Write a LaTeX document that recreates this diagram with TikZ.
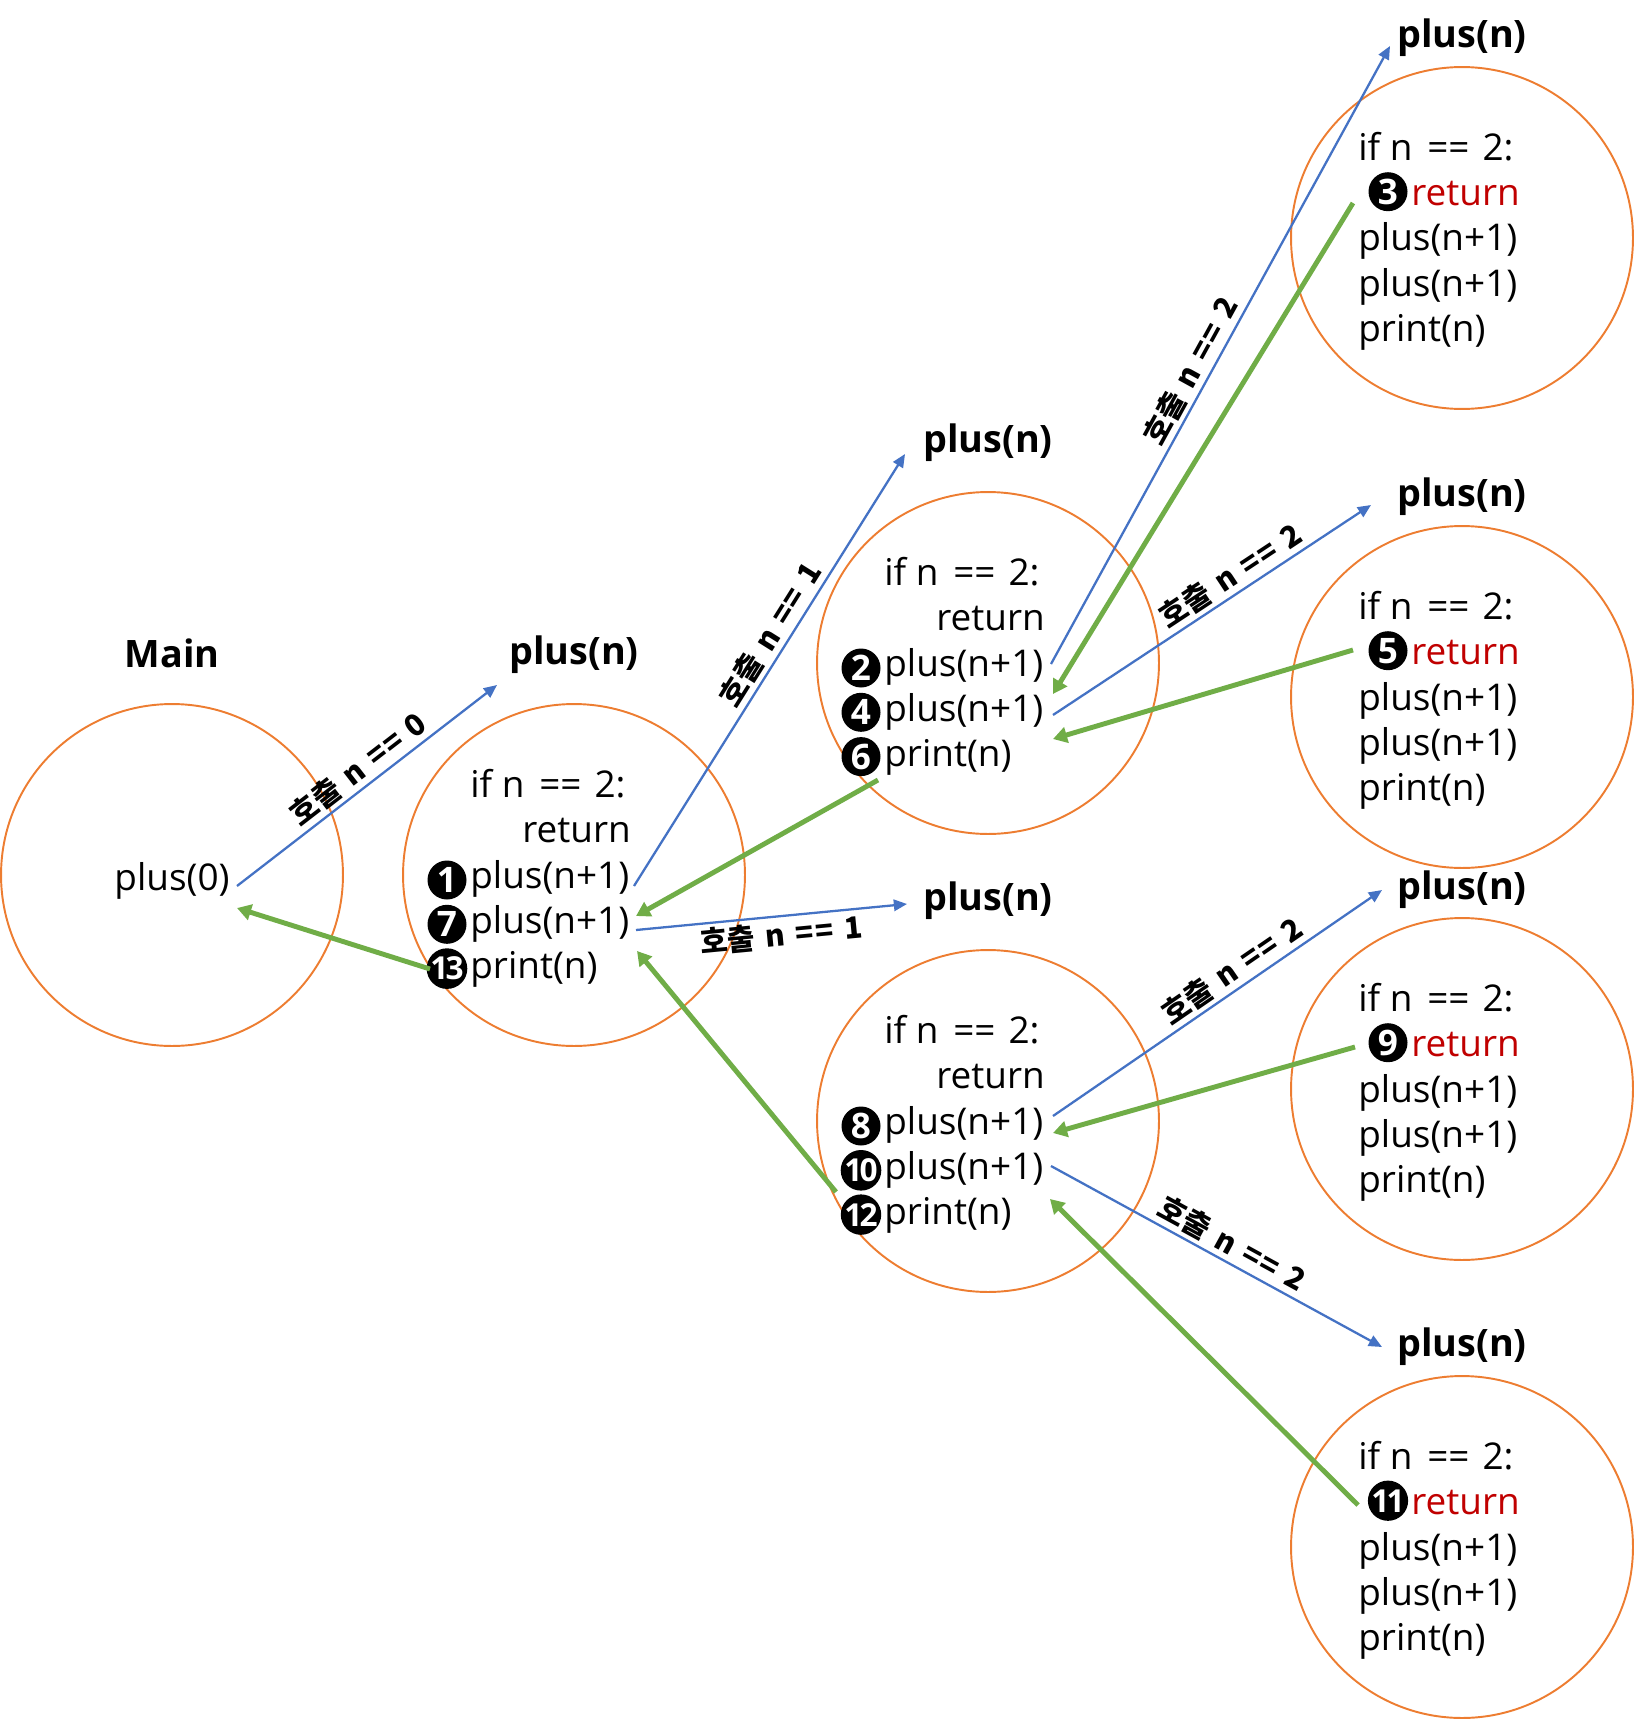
\documentclass[tikz,border=0pt]{standalone}
\usepackage{fontspec}
\setmainfont{Open Sans}
\newfontfamily\kr{Noto Sans CJK KR}
\usetikzlibrary{arrows.meta}
\definecolor{orng}{HTML}{ED7D31}
\definecolor{blu}{HTML}{4472C4}
\definecolor{grn}{HTML}{70AD47}
\definecolor{rd}{HTML}{C00000}
\tikzset{
 circ/.style={circle, draw=orng, line width=1.1pt, minimum size=6.84cm, inner sep=0},
 code/.style={anchor=base west, inner sep=0, font=\fontsize{21}{25}\selectfont},
 mk/.style={circle, fill=black, text=white, inner sep=0, minimum size=0.78cm, font=\bfseries\fontsize{20}{20}\selectfont},
 mkk/.style={mk, font=\bfseries\fontsize{18}{18}\selectfont},
 ttl/.style={font=\bfseries\fontsize{21.5}{25}\selectfont, inner sep=0},
 lab/.style={sloped, inner sep=2pt, font=\kr\bfseries\fontsize{17}{20}\selectfont},
 call/.style={draw=blu, line width=1.3pt, -{Triangle[length=7.5pt,width=6.5pt]}},
 ret/.style={draw=grn, line width=2.8pt, -{Triangle[length=8pt,width=9pt]}},
}
\newcommand\codeln[4]{\node[code] (#1) at ([shift={(#2)}]#3.center) {#4};}
\newcommand\iftext{if n\hspace{3pt} ==\hspace{2pt} 2:}
\newcommand\calllab[1]{호출\hspace{6pt}n\hspace{6pt}=\hspace{1pt}=\hspace{6pt}#1}
\begin{document}
\begin{tikzpicture}[x=0.02cm,y=-0.02cm]
\useasboundingbox (0,0) rectangle (1635,1720);
% circles
\node[circ] (cm) at (172,875) {};
\node[circ] (c1) at (574,875) {};
\node[circ] (c2) at (988,663) {};
\node[circ] (c3) at (988,1121) {};
\node[circ] (c4) at (1462,238) {};
\node[circ] (c5) at (1462,697) {};
\node[circ] (c6) at (1462,1089) {};
\node[circ] (c7) at (1462,1547) {};
% titles
\node[ttl] (tm) at (172,653) {Main};
\node[ttl] (t1) at (574,655) {plus(n)};
\node[ttl] (t2) at (988,443) {plus(n)};
\node[ttl] (t3) at (988,901) {plus(n)};
\node[ttl] (t4) at (1462,38) {plus(n)};
\node[ttl] (t5) at (1462,497) {plus(n)};
\node[ttl] (t6) at (1462,890) {plus(n)};
\node[ttl] (t7) at (1462,1347) {plus(n)};
% main text
\node[code, anchor=base] (pm) at ([shift={(0,15)}]cm.center) {plus(0)};
% C1
\codeln{c1a}{-104,-77.6}{c1}{\iftext}
\codeln{c1b}{-52,-32.3}{c1}{return}
\codeln{c1c}{-104,13}{c1}{plus(n+1)}
\codeln{c1d}{-104,58.3}{c1}{plus(n+1)}
\codeln{c1e}{-104,103.6}{c1}{print(n)}
\node[mk] (k1) at ([shift={(-23,-8)}]c1c.base west) {1};
\node[mk] (k7) at ([shift={(-23,-9)}]c1d.base west) {7};
\node[mkk] (k13) at ([shift={(-23,-10)}]c1e.base west) {1\kern-1.5pt3};
% C2
\codeln{c2a}{-104,-77.6}{c2}{\iftext}
\codeln{c2b}{-52,-32.3}{c2}{return}
\codeln{c2c}{-104,13}{c2}{plus(n+1)}
\codeln{c2d}{-104,58.3}{c2}{plus(n+1)}
\codeln{c2e}{-104,103.6}{c2}{print(n)}
\node[mk] (k2) at ([shift={(-23,-8)}]c2c.base west) {2};
\node[mk] (k4) at ([shift={(-23,-9)}]c2d.base west) {4};
\node[mk] (k6) at ([shift={(-23,-10)}]c2e.base west) {6};
% C3
\codeln{c3a}{-104,-77.6}{c3}{\iftext}
\codeln{c3b}{-52,-32.3}{c3}{return}
\codeln{c3c}{-104,13}{c3}{plus(n+1)}
\codeln{c3d}{-104,58.3}{c3}{plus(n+1)}
\codeln{c3e}{-104,103.6}{c3}{print(n)}
\node[mk] (k8) at ([shift={(-23,-8)}]c3c.base west) {8};
\node[mkk] (k10) at ([shift={(-23,-9)}]c3d.base west) {1\kern-1.5pt0};
\node[mkk] (k12) at ([shift={(-23,-10)}]c3e.base west) {1\kern-1.5pt2};
% right circles
\foreach \c/\n/\s in {c4/3/mk, c5/5/mk, c6/9/mk, c7/{1\kern-1.5pt1}/mkk}{
  \codeln{\c-a}{-104,-77.6}{\c}{\iftext}
  \codeln{\c-b}{-51,-32.3}{\c}{\color{rd}return}
  \codeln{\c-c}{-104,13}{\c}{plus(n+1)}
  \codeln{\c-d}{-104,58.3}{\c}{plus(n+1)}
  \codeln{\c-e}{-104,103.6}{\c}{print(n)}
  \node[\s] (k-\c) at ([shift={(-23,-14)}]\c-b.base west) {\n};
}
% arrow end points
\coordinate (b0s) at (237,886);  \coordinate (b0e) at (497,685);
\coordinate (b1s) at (634,886);  \coordinate (b1e) at (905,454);
\coordinate (b2s) at (636,930);  \coordinate (b2e) at (907,904);
\coordinate (b3s) at (1051,664); \coordinate (b3e) at (1390,46);
\coordinate (b4s) at (1053,715); \coordinate (b4e) at (1371,505);
\coordinate (b5s) at (1053,1116);\coordinate (b5e) at (1382,890);
\coordinate (b6s) at (1051,1166);\coordinate (b6e) at (1382,1347);
\coordinate (g0s) at (430,969);  \coordinate (g0e) at (237,908);
\coordinate (g1s) at (878,780);  \coordinate (g1e) at (636,916);
\coordinate (g2s) at (836,1192); \coordinate (g2e) at (637,951);
\coordinate (g3s) at (1353,203); \coordinate (g3e) at (1053,694);
\coordinate (g4s) at (1353,650); \coordinate (g4e) at (1053,739);
\coordinate (g5s) at (1355,1047);\coordinate (g5e) at (1053,1133);
\coordinate (g6s) at (1358,1505);\coordinate (g6e) at (1050,1199);
% calls
\draw[call] (b0s) -- node[lab, above, pos=0.51] (l0) {\calllab{0}} (b0e);
\draw[call] (b1s) -- node[lab, above, pos=0.56] (l1) {\calllab{1}} (b1e);
\draw[call] (b2s) -- node[lab, below, pos=0.53] (l2) {\calllab{1}} (b2e);
\draw[call] (b3s) -- node[lab, above, pos=0.46] (l3) {\calllab{2}} (b3e);
\draw[call] (b4s) -- node[lab, above, pos=0.59] (l4) {\calllab{2}} (b4e);
\draw[call] (b5s) -- node[lab, above, pos=0.575] (l5) {\calllab{2}} (b5e);
\draw[call] (b6s) -- node[lab, above, pos=0.52] (l6) {\calllab{2}} (b6e);
% returns
\draw[ret] (g0s) -- (g0e);
\draw[ret] (g1s) -- (g1e);
\draw[ret] (g2s) -- (g2e);
\draw[ret] (g3s) -- (g3e);
\draw[ret] (g4s) -- (g4e);
\draw[ret] (g5s) -- (g5e);
\draw[ret] (g6s) -- (g6e);
\end{tikzpicture}
\end{document}
